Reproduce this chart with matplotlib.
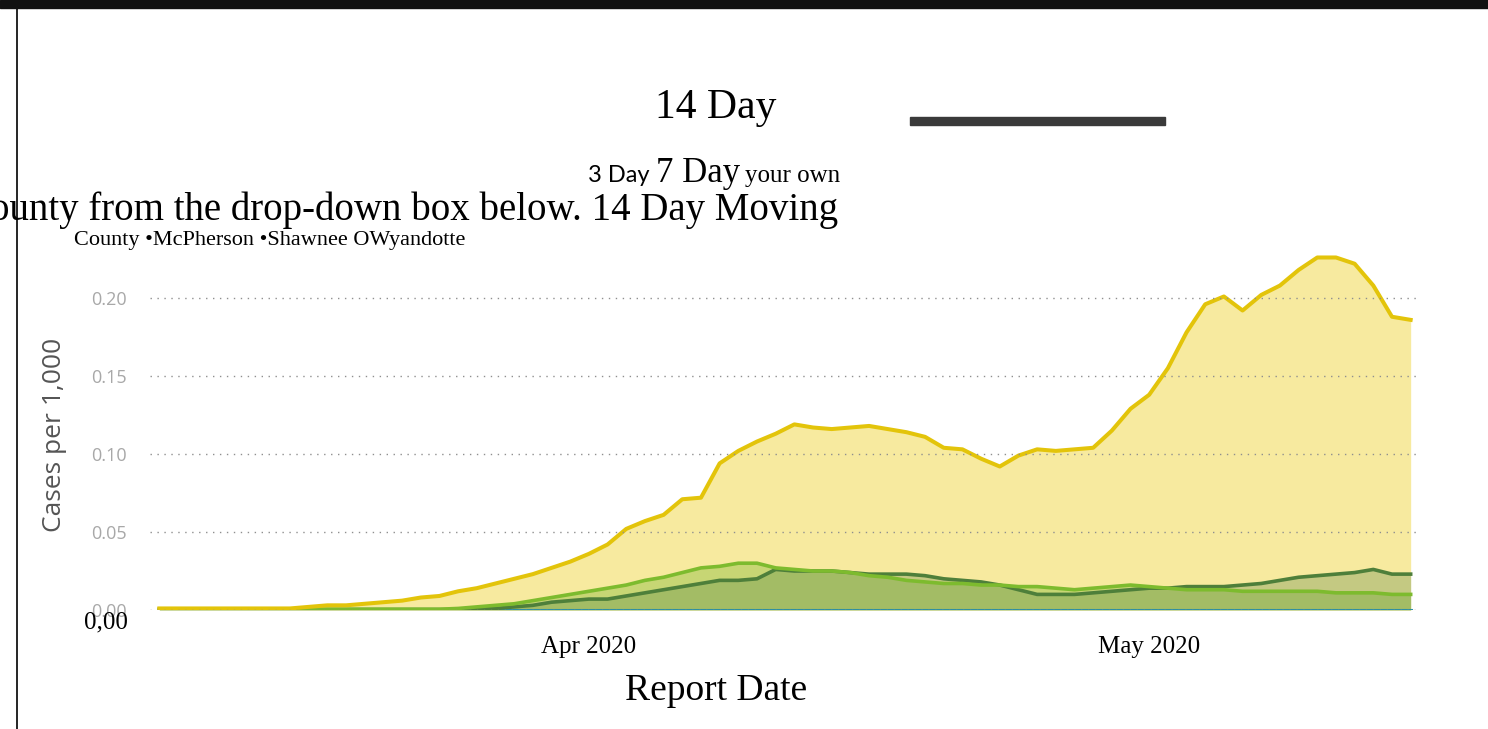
import matplotlib
matplotlib.use("Agg")
import matplotlib.pyplot as plt
import numpy as np
import pandas as pd
from matplotlib.patches import Rectangle

W, H = 1488, 729

# ---- data (14 day moving average, cases per 1,000) ----
dates = pd.date_range("2020-03-09", periods=68, freq="D")

wyandotte = [0.001, 0.001, 0.001, 0.001, 0.001, 0.001, 0.001, 0.001,
             0.002, 0.003, 0.003, 0.004, 0.005, 0.006, 0.008, 0.009,
             0.012, 0.014, 0.017, 0.020, 0.023, 0.027, 0.031, 0.036,
             0.042, 0.052, 0.057, 0.061, 0.071, 0.072, 0.094, 0.102,
             0.108, 0.113, 0.119, 0.117, 0.116, 0.117, 0.118, 0.116,
             0.114, 0.111, 0.104, 0.103, 0.097, 0.092, 0.099, 0.103,
             0.102, 0.103, 0.104, 0.115, 0.129, 0.138, 0.155, 0.178,
             0.196, 0.201, 0.192, 0.202, 0.208, 0.218, 0.226, 0.226,
             0.222, 0.208, 0.188, 0.186]

light_green = [0.0005] * 16 + [
               0.001, 0.002, 0.003, 0.004, 0.006, 0.008, 0.010, 0.012,
               0.014, 0.016, 0.019, 0.021, 0.024, 0.027, 0.028, 0.030,
               0.030, 0.027, 0.026, 0.025, 0.025, 0.024, 0.022, 0.021,
               0.019, 0.018, 0.017, 0.017, 0.016, 0.016, 0.015, 0.015,
               0.014, 0.013, 0.014, 0.015, 0.016, 0.015, 0.014, 0.013,
               0.013, 0.013, 0.012, 0.012, 0.012, 0.012, 0.012, 0.011,
               0.011, 0.011, 0.010, 0.010]

shawnee = [0.0003] * 17 + [
           0.001, 0.001, 0.002, 0.003, 0.005, 0.006, 0.007, 0.007,
           0.009, 0.011, 0.013, 0.015, 0.017, 0.019, 0.019, 0.020,
           0.026, 0.025, 0.025, 0.025, 0.024, 0.023, 0.023, 0.023,
           0.022, 0.020, 0.019, 0.018, 0.016, 0.013, 0.010, 0.010,
           0.010, 0.011, 0.012, 0.013, 0.014, 0.014, 0.015, 0.015,
           0.015, 0.016, 0.017, 0.019, 0.021, 0.022, 0.023, 0.024,
           0.026, 0.023, 0.023]

mcpherson = [0.0] * 68

yticks = [0.00, 0.05, 0.10, 0.15, 0.20]
ytick_labels = ["0.00", "0.05", "0.10", "0.15", "0.20"]
xticks = [pd.Timestamp("2020-04-01"), pd.Timestamp("2020-05-01")]
xtick_labels = ["Apr 2020", "May 2020"]

serif = "Liberation Serif"


def fx(px):
    return px / W


def fy(py):
    return 1 - py / H


fig = plt.figure(figsize=(W / 100, H / 100), dpi=100)
fig.patch.set_facecolor("white")

# axes box in pixels: x 150..1420, y 250..610
ax = fig.add_axes([fx(150), fy(610), (1420 - 150) / W, (610 - 250) / H])
ax.set_facecolor("white")

# filled areas, light overlapping like power bi
ax.fill_between(dates, 0, wyandotte, color="#EECF1A", alpha=0.42, lw=0, zorder=2)
ax.fill_between(dates, 0, light_green, color="#86BC3A", alpha=0.42, lw=0, zorder=3)
ax.fill_between(dates, 0, shawnee, color="#5A8646", alpha=0.32, lw=0, zorder=4)

ax.plot(dates, mcpherson, color="#2E8FA0", lw=2.2, zorder=5)
ax.plot(dates, shawnee, color="#4E7F3A", lw=2.6, zorder=6)
ax.plot(dates, light_green, color="#7DBB2E", lw=2.6, zorder=7)
ax.plot(dates, wyandotte, color="#E3C40A", lw=2.9, zorder=8)

ax.set_xlim(dates[0] - pd.Timedelta(hours=12), dates[-1] + pd.Timedelta(hours=12))
ax.set_ylim(0, 0.2308)

for v in yticks:
    ax.axhline(v, color="#8f8f8f", lw=1.0, ls=(0, (1, 4)), zorder=9)

for s in ax.spines.values():
    s.set_visible(False)

ax.set_yticks(yticks)
ax.set_yticklabels(ytick_labels, color="#a8a8a8", fontsize=13, family="Open Sans")
ax.tick_params(axis="y", length=0, pad=17)

ax.set_xticks(xticks)
ax.set_xticklabels(xtick_labels, family=serif, fontsize=18, color="black")
ax.tick_params(axis="x", length=0, pad=19)

ax.set_ylabel("Cases per 1,000", color="#555555", fontsize=19,
              family="Open Sans")
ax.yaxis.set_label_coords((67 - 150) / 1270, 0.486)

# ---- overlaid page text ----
fig.text(fx(716), fy(118), "14 Day", family=serif, fontsize=30,
         ha="center", va="baseline")
fig.text(fx(840), fy(182), "your own", family=serif, fontsize=18,
         ha="right", va="baseline")
fig.text(fx(740), fy(182), "7 Day", family=serif, fontsize=25,
         ha="right", va="baseline")
fig.text(fx(649), fy(182), "3 Day", family="Lato", fontsize=17,
         ha="right", va="baseline")
fig.text(fx(838), fy(220), "County from the drop-down box below. 14 Day Moving",
         family=serif, fontsize=28, ha="right", va="baseline")
fig.text(fx(74), fy(245), "County \u2022McPherson \u2022Shawnee OWyandotte",
         family=serif, fontsize=16, ha="left", va="baseline")
fig.text(fx(84), fy(628), "0,00", family=serif, fontsize=18,
         ha="left", va="baseline")
fig.text(fx(716), fy(700), "Report Date", family=serif, fontsize=27,
         ha="center", va="baseline")

# page rules
fig.patches.append(Rectangle((0, fy(8)), 1, 8 / H, transform=fig.transFigure,
                             color="#111111", zorder=10))
fig.patches.append(Rectangle((fx(910), fy(125)), 255 / W, 8 / H,
                             transform=fig.transFigure, color="#3a3a3a", zorder=10))
fig.lines.append(plt.Line2D([fx(16.5), fx(16.5)], [0, fy(8)],
                            transform=fig.transFigure, color="black", lw=1.2))

fig.savefig("out.png", dpi=100)
